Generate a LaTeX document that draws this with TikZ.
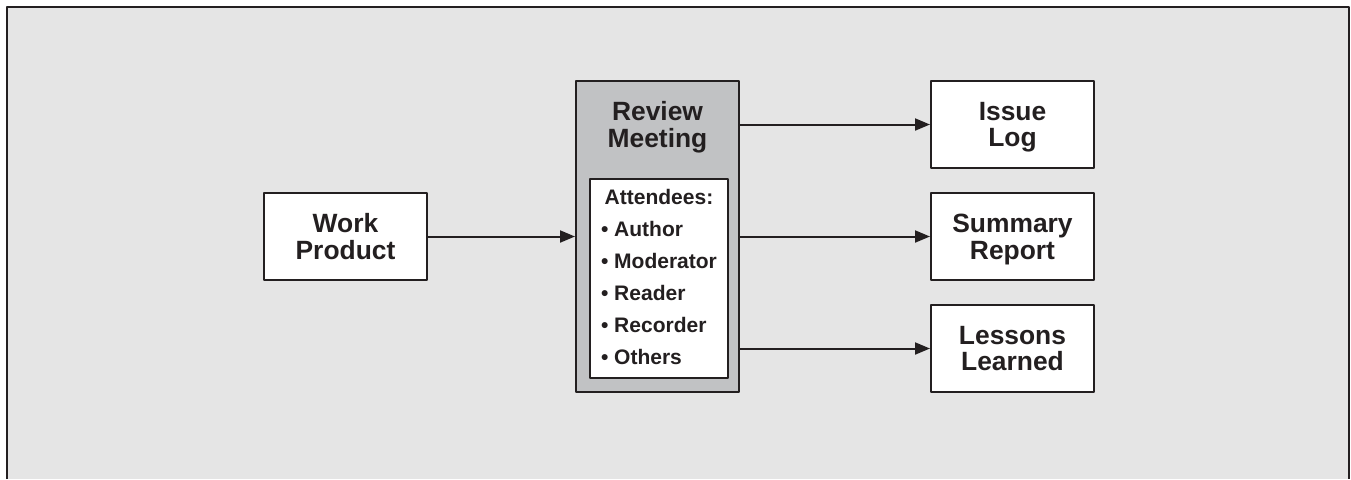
\documentclass[tikz,border=0pt]{standalone}
\usepackage{fontspec}
\setmainfont{Liberation Sans}
\usetikzlibrary{arrows.meta}

\definecolor{panel}{HTML}{E5E5E5}
\definecolor{meetgray}{HTML}{C1C2C4}
\definecolor{ink}{HTML}{231F20}

\tikzset{
  box/.style={draw=ink, fill=white, text=ink, line width=1pt,
    minimum width=81.5pt, minimum height=43.5pt, inner sep=0pt,
    align=center, text depth=0pt,
    font=\bfseries\fontsize{13.2}{13.4}\selectfont},
  meetbox/.style={draw=ink, fill=meetgray, line width=1pt,
    minimum width=81.5pt, minimum height=155.5pt, inner sep=0pt},
  titletext/.style={text=ink, align=center, text depth=0pt, inner sep=0pt,
    font=\bfseries\fontsize{13.2}{13.4}\selectfont},
  attbox/.style={draw=ink, fill=white, text=ink, line width=1pt,
    minimum width=69pt, minimum height=99.5pt, inner sep=0pt,
    font=\bfseries\fontsize{10.5}{16}\selectfont},
  flow/.style={->, draw=ink, line width=1pt}
}

\begin{document}
\begin{tikzpicture}[x=0.5pt, y=-0.5pt, line join=round, >={Triangle[length=7.5pt,width=6pt]}]
	\useasboundingbox (0,0) rectangle (1351,479);

	% panel
	\fill[panel] (6.7,6.7) rectangle (1349,479);
	\draw[ink, line width=1pt] (6.7,479) -- (6.7,6.7) -- (1349,6.7) -- (1349,479);

	\node[box] (work) at (345.5,236.5) {Work\\Product};

	\node[meetbox] (review) at (657.5,236.2) {};
	\node[titletext] (title) at (657.5,124.5) {Review\\Meeting};
	\node[attbox] (attendees) at (659,278.5) {%
		\begin{tabular}{@{}l@{}}
			\multicolumn{1}{@{}c@{}}{Attendees:}\\
			•\ Author\\
			•\ Moderator\\
			•\ Reader\\
			•\ Recorder\\
			•\ Others
		\end{tabular}};

	\foreach \n/\y/\t in {issue/124.5/{Issue\\Log}, summary/236.5/{Summary\\Report}, lessons/348.5/{Lessons\\Learned}}
		\node[box] (\n) at (1012.5,\y) {\t};

	\draw[flow] (work) -- (work -| review.west);
	\foreach \n in {issue,summary,lessons}
		\draw[flow] (review.east |- \n) -- (\n);
\end{tikzpicture}
\end{document}
